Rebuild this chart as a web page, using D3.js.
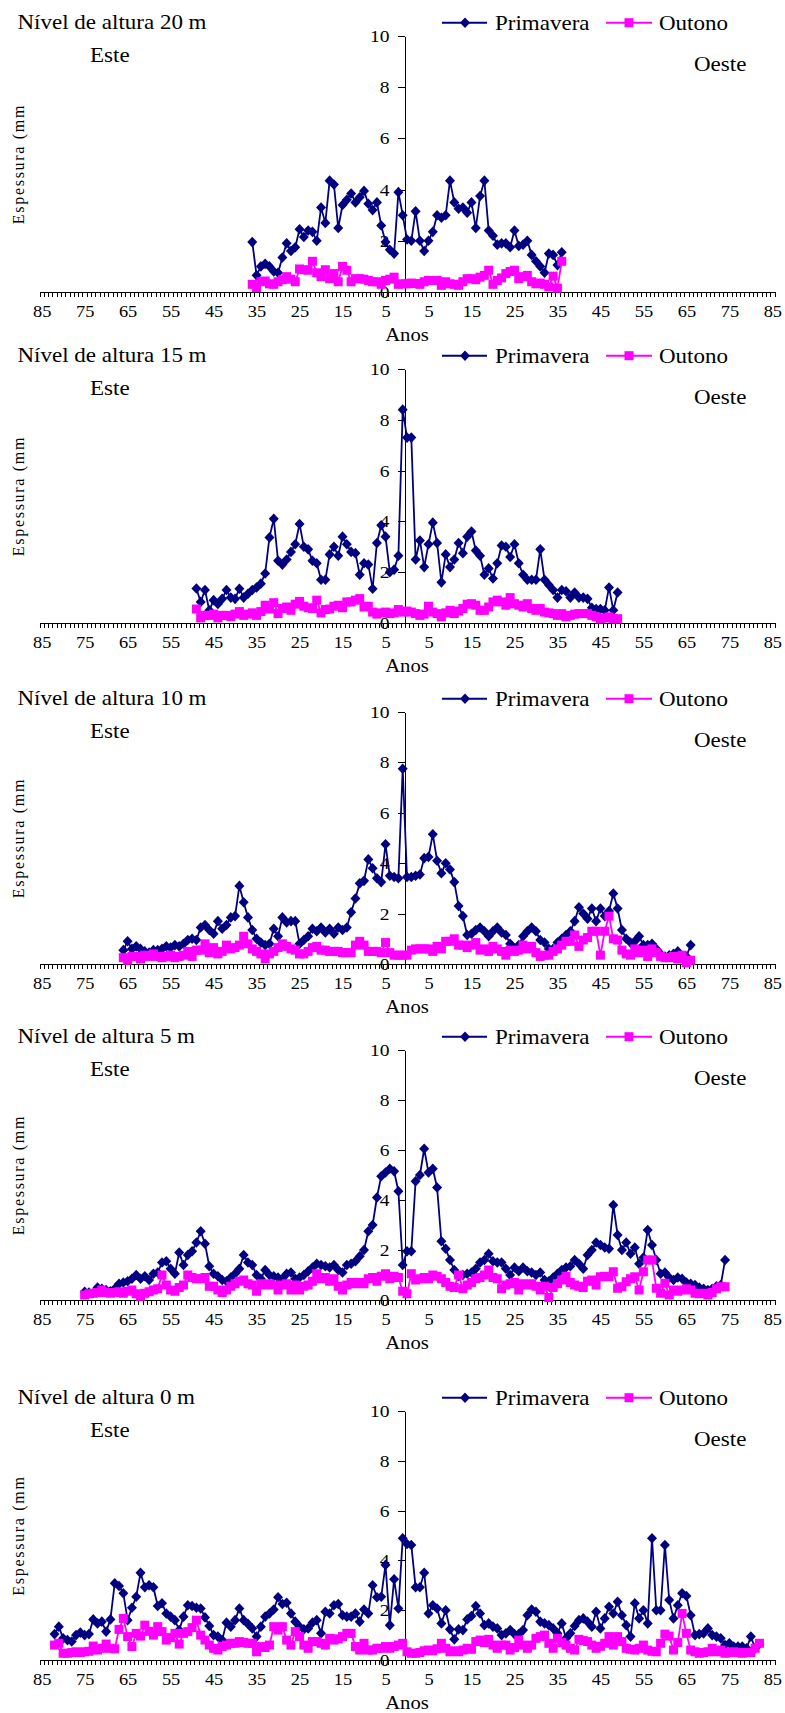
<!DOCTYPE html>
<html>
<head>
<meta charset="utf-8">
<script src="https://cdn.jsdelivr.net/npm/d3@7"></script>
<style>
  body { margin: 0; background: #fff; }
  svg text { font-family: "Liberation Serif", "Times New Roman", serif; fill: #000; }
</style>
</head>
<body>
<svg id="chart"></svg>
<script>
// ---- data ----------------------------------------------------------
const levels = ["20", "15", "10", "5", "0"];
const firstYear = [-36, -49, -66, -75, -82];   // east side is negative, west side positive

const primavera20 = [1.95,0.65,1.0,1.1,1.0,0.8,0.75,1.35,1.9,1.6, 1.75,2.45,2.15,2.4,2.35,2.0,3.3,2.7,4.35,4.2,
  2.5,3.4,3.6,3.85,3.5,3.7,3.95,3.45,3.2,3.5, 2.6,1.95,1.65,1.5,3.9,3.0,
  2.05,2.0,3.15,2.0,1.6,2.0,2.35,3.0,2.9,3.0, 4.35,3.5,3.25,3.3,3.1,3.5,2.5,3.75,4.35,2.4,
  2.2,1.85,1.9,1.9,1.75,2.4,1.8,1.85,2.0,1.45, 1.2,1.0,0.75,1.5,1.45,1.05,1.55];
const outono20 = [0.3,0.17,0.4,0.43,0.32,0.3,0.4,0.48,0.6,0.5, 0.4,0.9,0.87,0.85,1.2,0.75,0.6,0.87,0.52,0.72,
  0.4,1.0,0.85,0.4,0.52,0.52,0.5,0.45,0.4,0.4, 0.3,0.45,0.5,0.58,0.3,0.32,
  0.32,0.35,0.33,0.3,0.4,0.45,0.45,0.45,0.26,0.4, 0.32,0.3,0.26,0.4,0.52,0.52,0.48,0.58,0.65,0.85,
  0.3,0.45,0.55,0.72,0.8,0.85,0.52,0.6,0.65,0.4, 0.32,0.35,0.3,0.2,0.62,0.15,1.2];

const primavera15 = [1.36,0.83,1.3,0.5,0.9,0.75,0.95,1.3,1.0,0.95, 1.35,1.0,1.15,1.3,1.4,1.55,1.95,3.37,4.1,2.45,
  2.3,2.5,2.8,3.1,3.9,3.0,2.9,2.45,2.35,1.7, 1.7,2.7,3.0,2.65,3.4,3.1,2.8,2.75,1.9,2.35,
  2.3,1.35,3.15,3.85,3.4,2.0,2.1,2.65,8.4,
  7.3,7.3,2.5,3.25,2.2,3.1,3.95,3.15,1.6,2.7, 2.2,2.5,3.15,2.75,3.4,3.6,2.85,2.65,1.9,2.15,
  1.75,2.35,3.05,3.0,2.6,3.1,2.35,1.9,1.7,1.7, 1.7,2.9,1.7,1.5,1.3,1.0,1.3,1.25,1.0,1.2,
  1.0,1.0,0.95,0.6,0.55,0.55,0.5,1.4,0.5,1.2];
const outono15 = [0.55,0.2,0.3,0.3,0.35,0.2,0.3,0.3,0.25,0.35, 0.45,0.3,0.35,0.4,0.3,0.45,0.7,0.55,0.8,0.37,
  0.57,0.63,0.5,0.74,0.85,0.66,0.6,0.57,0.9,0.4, 0.53,0.55,0.66,0.7,0.6,0.83,0.83,0.9,0.96,0.63,
  0.66,0.43,0.35,0.4,0.43,0.37,0.4,0.53,0.43,
  0.47,0.43,0.37,0.3,0.35,0.66,0.43,0.37,0.24,0.4, 0.5,0.37,0.47,0.57,0.74,0.76,0.7,0.5,0.5,0.63,
  0.83,0.9,0.83,0.7,1.0,0.76,0.7,0.63,0.76,0.57, 0.5,0.57,0.43,0.4,0.37,0.3,0.37,0.24,0.3,0.35,
  0.37,0.37,0.37,0.3,0.24,0.17,0.2,0.24,0.17,0.17];

const primavera10 = [0.55,0.9,0.6,0.7,0.6,0.5,0.45,0.55,0.55,0.6, 0.7,0.65,0.75,0.7,0.8,0.95,1.0,0.95,1.45,1.55,
  1.35,1.2,1.7,1.4,1.55,1.85,1.9,3.1,2.45,1.85, 1.35,1.0,0.85,0.75,0.8,1.4,1.1,1.85,1.65,1.7,
  1.7,0.8,0.95,1.1,1.4,1.3,1.45,1.25,1.4,1.2, 1.45,1.35,1.45,2.05,2.6,3.2,3.3,4.15,3.8,3.4,
  3.25,4.75,3.5,3.45,3.4,7.75,
  3.45,3.45,3.5,3.55,4.2,4.25,5.15,4.1,3.6,4.0, 3.75,3.25,2.3,1.9,1.15,1.2,1.35,1.45,1.3,1.1,
  1.3,1.45,1.25,1.15,0.8,0.6,0.75,1.1,1.3,1.45, 1.3,0.95,0.85,0.6,0.6,0.85,1.0,1.15,1.3,1.7,
  2.25,2.0,1.8,2.2,1.7,2.2,1.9,2.1,2.8,2.2, 1.35,1.0,0.85,0.9,1.1,0.75,0.75,0.8,0.6,0.4,
  0.3,0.35,0.4,0.5,0.3,0.3,0.75];
const outono10 = [0.25,0.15,0.3,0.3,0.2,0.35,0.3,0.4,0.3,0.25, 0.3,0.35,0.25,0.3,0.35,0.5,0.3,0.55,0.55,0.8,
  0.45,0.65,0.4,0.5,0.75,0.6,0.65,0.75,1.1,0.8, 0.6,0.5,0.4,0.2,0.4,0.5,0.65,0.8,0.7,0.6,
  0.55,0.4,0.4,0.5,0.65,0.7,0.55,0.55,0.5,0.5, 0.5,0.45,0.45,0.45,0.75,0.9,0.75,0.5,0.5,0.5,
  0.45,0.85,0.45,0.35,0.35,0.35,
  0.35,0.55,0.6,0.6,0.6,0.6,0.5,0.7,0.6,0.9, 0.9,1.0,0.75,0.75,0.65,0.75,0.85,0.55,0.6,0.5,
  0.7,0.6,0.5,0.35,0.55,0.5,0.55,0.75,0.6,0.7, 0.45,0.3,0.35,0.35,0.5,0.6,0.75,0.9,0.9,1.15,
  0.7,0.95,1.05,1.3,1.3,0.35,1.3,1.9,1.0,0.95, 0.55,0.4,0.35,0.6,0.45,0.55,0.3,0.6,0.45,0.3,
  0.25,0.25,0.3,0.2,0.35,0.05,0.15];

const primavera5 = [0.33,0.3,0.28,0.5,0.45,0.4,0.35,0.45,0.65,0.7, 0.75,0.85,1.0,0.85,0.95,0.8,1.05,1.1,1.5,1.55,
  1.25,1.05,1.9,1.4,1.8,1.95,2.3,2.75,2.25,1.35, 1.05,0.95,0.8,0.75,0.9,1.05,1.25,1.8,1.5,1.4,
  1.0,0.85,1.2,1.0,0.95,0.9,0.85,1.05,1.1,0.85, 0.9,1.0,1.15,1.3,1.45,1.4,1.35,1.3,1.4,1.2,
  1.1,1.4,1.45,1.55,1.75,2.0,2.75,3.0,4.1,4.95, 5.1,5.25,5.15,4.35,1.4,
  1.95,1.95,4.75,5.0,6.05,5.1,5.25,4.5,2.35,2.05, 1.6,1.2,0.95,1.0,1.05,1.1,1.25,1.5,1.6,1.85,
  1.55,1.5,1.5,1.25,1.0,1.3,1.15,1.3,1.15,1.1, 1.0,1.1,0.8,0.75,0.9,1.05,1.2,1.3,1.35,1.6,
  1.45,1.25,1.8,2.0,2.3,2.2,2.1,2.05, 3.8,2.6,2.0,2.3,1.85,2.1,1.45,1.7,2.8,2.2,
  1.6,1.05,1.1,0.9,0.8,0.9,0.85,0.7,0.65,0.6, 0.5,0.45,0.4,0.45,0.55,0.6,1.6];
const outono5 = [0.2,0.25,0.27,0.3,0.4,0.3,0.27,0.3,0.33,0.27, 0.35,0.4,0.25,0.15,0.27,0.33,0.4,0.45,1.0,0.6,
  0.4,0.35,0.5,0.6,1.0,0.9,0.85,0.85,0.9,0.55, 0.55,0.4,0.3,0.4,0.55,0.65,0.75,0.8,0.65,0.6,
  0.35,0.65,0.6,0.65,0.6,0.4,0.6,0.65,0.4,0.6, 0.4,0.55,0.6,0.75,1.05,0.85,0.9,0.75,0.85,0.55,
  0.4,0.6,0.7,0.65,0.7,0.65,0.85,0.9,0.75,0.95, 1.05,0.85,0.95,0.9,0.35,
  0.25,1.05,0.8,0.85,0.9,0.85,1.0,0.95,0.85,0.7, 0.55,0.5,1.0,0.45,0.6,0.7,0.85,0.9,1.0,1.2,
  0.9,0.85,0.45,0.6,0.65,0.7,0.4,0.65,0.6,0.65, 0.55,0.4,0.55,0.1,0.5,0.65,0.8,0.95,0.7,0.6,
  0.55,0.5,0.75,0.8, 0.6,0.93,0.95,0.93,1.13,0.47, 0.53,0.73,0.85,0.93,0.4,1.13,1.6,1.6,0.47,0.27,
  0.67,0.2,0.4,0.35,0.4,0.45,0.4,0.27,0.25,0.27, 0.2,0.3,0.45,0.53,0.53];

const primavera0 = [1.04,1.34,0.87,0.8,0.74,1.0,1.1,1.0,1.04,1.63, 1.47,1.54,1.14,1.63,3.08,2.97,2.68,1.6,2.1,2.54,
  3.5,2.92,3.0,2.92,2.17,2.28,1.87,1.74,1.6,1.2, 1.74,2.2,2.17,2.1,2.07,1.71,1.37,1.0,0.94,0.8,
  1.5,1.34,1.6,2.07,1.6,1.45,1.27,0.94,1.34,1.74, 1.87,2.03,2.52,2.25,2.3,1.87,1.54,1.34,1.23,1.27,
  1.5,1.6,1.07,1.94,1.87,2.2,2.25,1.8,1.74,1.74, 1.87,1.54,2.03,1.87,3.0,2.52,2.54,3.82,1.4,3.24,
  2.07,4.89,
  4.66,4.62,2.92,2.92,3.5,1.87,2.2,2.07,1.47,2.0, 1.23,0.83,1.23,1.2,1.63,1.77,2.17,1.87,1.4,1.47,
  1.34,1.27,1.0,1.07,1.2,1.04,1.04,1.2,1.8,2.03, 1.94,1.54,1.47,1.4,1.27,1.07,1.47,0.87,1.07,1.37,
  1.6,1.67,1.54,1.34,1.94,1.27,1.67,2.14,1.87,2.34, 1.8,1.4,0.94,2.28,1.67,2.0,1.47,4.89,2.0,2.0,
  4.62,2.41,1.67,2.2,2.68,2.57,1.8,1.0,1.04,1.07, 1.27,1.0,0.94,0.87,0.6,0.67,0.54,0.54,0.54,0.47,
  0.94,0.47,0.64];
const outono0 = [0.6,0.67,0.27,0.27,0.3,0.33,0.3,0.33,0.35,0.56, 0.4,0.47,0.64,0.47,0.45,1.23,1.67,0.94,0.54,1.07,
  0.96,1.4,1.15,1.0,1.34,1.14,0.8,0.9,1.07,0.64, 1.07,1.14,1.3,1.6,1.0,0.8,0.6,0.47,0.4,0.54,
  0.6,0.67,0.67,0.74,0.7,0.67,0.67,0.33,0.54,0.5, 0.6,1.34,1.2,1.34,0.8,0.6,1.14,0.94,0.6,0.47,
  0.74,0.74,0.67,0.6,0.87,0.8,0.85,0.94,1.07,1.07, 0.54,0.4,0.67,0.4,0.4,0.47,0.47,0.54,0.47,0.54,
  0.6,0.67,
  0.33,0.27,0.27,0.3,0.37,0.4,0.37,0.45,0.67,0.47, 0.33,0.37,0.33,0.4,0.47,0.43,0.74,0.8,0.7,0.83,
  0.6,0.47,0.6,0.6,0.4,0.5,0.8,0.6,0.47,0.6, 0.87,0.94,1.0,0.67,0.47,0.87,0.7,0.6,0.47,0.4,
  0.83,0.78,0.74,0.6,0.47,0.55,0.67,0.94,0.6,0.94, 0.74,0.47,0.43,0.4,0.47,0.6,0.4,0.35,0.33,0.67,
  1.04,0.96,0.4,0.7,1.87,1.07,0.4,0.33,0.27,0.3, 0.33,0.47,0.33,0.4,0.27,0.3,0.33,0.3,0.27,0.3,
  0.3,0.47,0.67];

const primaveraSeries = [primavera20, primavera15, primavera10, primavera5, primavera0];
const outonoSeries = [outono20, outono15, outono10, outono5, outono0];

const xTickYears = [-85,-75,-65,-55,-45,-35,-25,-15,-5,5,15,25,35,45,55,65,75,85];
const xTickLabels = ["85","75","65","55","45","35","25","15","5","5","15","25","35","45","55","65","75","85"];
const yTicks = [0, 2, 4, 6, 8, 10];

// ---- layout --------------------------------------------------------
const W = 785, H = 1713;
const panelTop = [36, 369, 712, 1050, 1411];
const panelBottom = [292, 623, 964, 1300, 1660];
const STRETCH = 1.15;          // the original text is a bit wider than plain Times
const navy = "#000080", pink = "#ff00ff";
const serif = '"Liberation Serif", "Times New Roman", serif';

const svg = d3.select("#chart").attr("width", W).attr("height", H)
  .attr("font-family", serif);
svg.append("rect").attr("width", W).attr("height", H).attr("fill", "#fff");

const x = d3.scaleLinear().domain([-85.5, 85.5]).range([39.5, 774.5]);
const yAxisX = Math.round(x(-0.75)) + 0.5;

const diamond = "M0,-5.3L5,0L0,5.3L-5,0Z";

function label(g, txt, px, py, size, anchor) {
  return g.append("text")
    .attr("transform", `translate(${px},${py}) scale(${STRETCH},1)`)
    .attr("font-family", serif)
    .attr("font-size", size)
    .attr("text-anchor", anchor || "start")
    .text(txt);
}

levels.forEach((lvl, i) => {
  const top = panelTop[i], bottom = panelBottom[i];
  const y = d3.scaleLinear().domain([0, 10]).range([bottom, top]);
  const g = svg.append("g");

  // category ticks along the x axis
  const xMinor = g.append("g")
    .attr("transform", `translate(0,${bottom})`)
    .call(d3.axisBottom(x).tickValues(d3.range(-85.5, 86, 1)).tickSize(5).tickSizeOuter(0).tickFormat(""));
  xMinor.selectAll("line, path").attr("stroke", "#000").attr("shape-rendering", "crispEdges");

  const xLab = g.append("g")
    .attr("transform", `translate(0,${bottom})`)
    .call(d3.axisBottom(x).tickValues(xTickYears).tickSize(0).tickPadding(14)
      .tickFormat((d, k) => xTickLabels[k]));
  xLab.attr("font-family", serif);
  xLab.select(".domain").remove();
  xLab.selectAll("text").attr("font-size", 16).attr("font-family", serif)
    .attr("transform", `scale(${STRETCH},1)`);

  const yAx = g.append("g")
    .attr("transform", `translate(${yAxisX},0)`)
    .call(d3.axisLeft(y).tickValues(yTicks).tickSize(7).tickSizeOuter(0).tickPadding(6));
  yAx.attr("font-family", serif);
  yAx.selectAll("line, path").attr("stroke", "#000").attr("shape-rendering", "crispEdges");
  yAx.selectAll("text").attr("font-size", 17).attr("font-family", serif)
    .attr("transform", `scale(${STRETCH},1)`);

  // texts
  label(g, `Nível de altura ${lvl} m`, 17.5, top - 7.5, 20);
  label(g, "Este", 90, top + 25.7, 20);
  label(g, "Oeste", 694, top + 35, 20);
  label(g, "Anos", x(0), bottom + 49, 18, "middle");
  g.append("text")
    .attr("transform", `translate(24,${(top + bottom) / 2}) rotate(-90)`)
    .attr("text-anchor", "middle")
    .attr("font-family", serif)
    .attr("font-size", 16)
    .attr("letter-spacing", 1.7)
    .text("Espessura (mm");

  // legend
  const ly = top - 13.3;
  g.append("line").attr("x1", 442).attr("x2", 487).attr("y1", ly).attr("y2", ly)
    .attr("stroke", navy).attr("stroke-width", 2);
  g.append("path").attr("d", diamond).attr("transform", `translate(465,${ly})`).attr("fill", navy);
  label(g, "Primavera", 495, top - 6.5, 20);
  g.append("line").attr("x1", 606).attr("x2", 652).attr("y1", ly).attr("y2", ly)
    .attr("stroke", pink).attr("stroke-width", 2);
  g.append("rect").attr("x", 629 - 4.5).attr("y", ly - 4.5).attr("width", 9).attr("height", 9).attr("fill", pink);
  label(g, "Outono", 659, top - 6.5, 20);

  // series
  const start = firstYear[i];
  const line = d3.line().x((d, k) => x(start + k)).y(d => y(d));

  const prim = primaveraSeries[i];
  g.append("path").datum(prim).attr("d", line)
    .attr("fill", "none").attr("stroke", navy).attr("stroke-width", 1.8).attr("stroke-linejoin", "round");
  g.selectAll(".dia").data(prim).join("path")
    .attr("class", "dia").attr("d", diamond)
    .attr("transform", (d, k) => `translate(${x(start + k)},${y(d)})`)
    .attr("fill", navy);

  const out = outonoSeries[i];
  g.append("path").datum(out).attr("d", line)
    .attr("fill", "none").attr("stroke", pink).attr("stroke-width", 1.8).attr("stroke-linejoin", "round");
  g.selectAll(".sq").data(out).join("rect")
    .attr("class", "sq")
    .attr("x", (d, k) => x(start + k) - 4.5)
    .attr("y", d => y(d) - 4.5)
    .attr("width", 9).attr("height", 9)
    .attr("fill", pink);
});
</script>
</body>
</html>
